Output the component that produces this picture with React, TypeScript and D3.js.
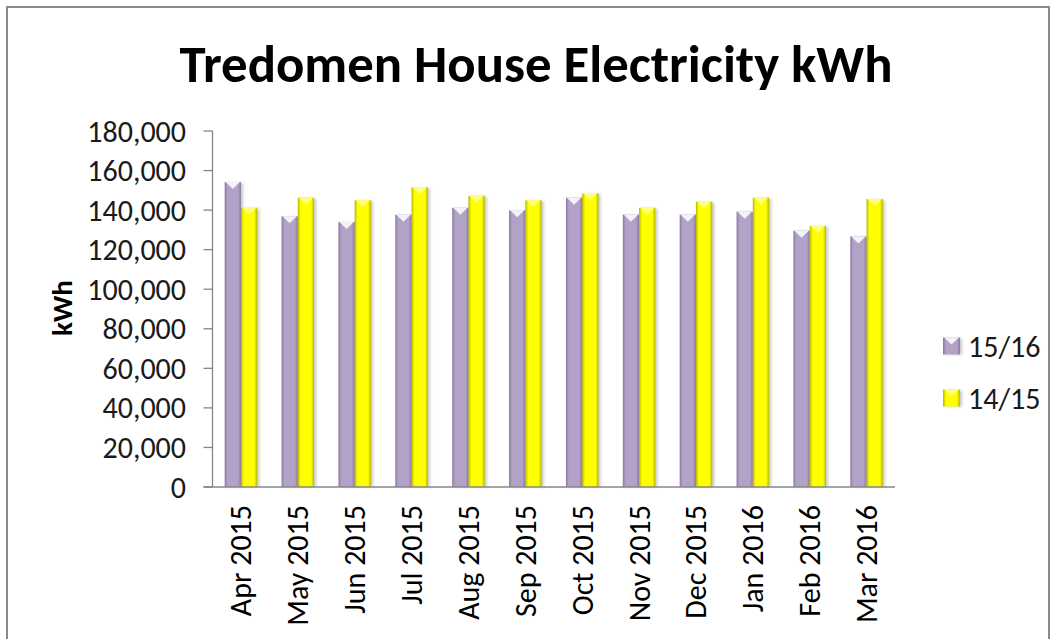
import React from "react";
import * as d3 from "d3";

const categories = ["Apr 2015","May 2015","Jun 2015","Jul 2015","Aug 2015","Sep 2015","Oct 2015","Nov 2015","Dec 2015","Jan 2016","Feb 2016","Mar 2016"];
const seriesNames = ["15/16","14/15"];
const values1516 = [154200,136900,134000,137700,141200,139900,146300,137700,137700,139200,129600,126700];
const values1415 = [141200,146300,145000,151500,147300,145000,148500,141200,144300,146300,132000,145600];
const yTicks = [0,20000,40000,60000,80000,100000,120000,140000,160000,180000];

const W = 1057, H = 639;
const plot = { left: 212.5, right: 895, top: 131, bottom: 487 };
const FONT = "Carlito, Calibri, Lato, 'Open Sans', sans-serif";

const styles: Record<string, { base: string; edge: string; hi: string; hiOp: number }> = {
  "15/16": { base: "#B3A2C7", edge: "#8B77A3", hi: "#FFFFFF", hiOp: 0.85 },
  "14/15": { base: "#FFFF00", edge: "#B8B800", hi: "#FFFFB0", hiOp: 0.7 },
};

function Bar({ x, y, w, h, name, id }: { x: number; y: number; w: number; h: number; name: string; id: string }) {
  const s = styles[name];
  const capH = Math.min(7, h / 2);
  return (
    <g>
      <rect x={x + 2} y={y + 1} width={w} height={h - 1} fill="#000" opacity={0.22} filter="url(#blur)" />
      <rect x={x} y={y} width={w} height={h} fill={`url(#grad-${id})`} />
      <polygon
        points={`${x + 1},${y} ${x + w - 1},${y} ${x + w / 2},${y + capH}`}
        fill={s.hi}
        opacity={s.hiOp}
      />
    </g>
  );
}

export default function App() {
  const x0 = d3.scaleBand<string>().domain(categories).range([plot.left, plot.right]).padding(0);
  const x1 = d3.scaleBand<string>().domain(seriesNames).range([0, x0.bandwidth()]).paddingInner(0).paddingOuter(0.75);
  const y = d3.scaleLinear().domain([0, 180000]).range([plot.bottom, plot.top]);
  const fmt = d3.format(",");
  const seriesData: Record<string, number[]> = { "15/16": values1516, "14/15": values1415 };
  const ids: Record<string, string> = { "15/16": "p", "14/15": "y" };

  return (
    <div style={{ position: "fixed", left: 0, top: 0 }}>
      <svg width={W} height={H} style={{ display: "block", background: "#fff" }}>
        <defs>
          {seriesNames.map((n) => (
            <linearGradient key={n} id={`grad-${ids[n]}`} x1="0" x2="1" y1="0" y2="0">
              <stop offset="0%" stopColor={styles[n].edge} />
              <stop offset="18%" stopColor={styles[n].base} />
              <stop offset="82%" stopColor={styles[n].base} />
              <stop offset="100%" stopColor={styles[n].edge} />
            </linearGradient>
          ))}
          <filter id="blur" x="-50%" y="-10%" width="200%" height="120%">
            <feGaussianBlur stdDeviation="1.5" />
          </filter>
        </defs>
        <rect x={7} y={7} width={1042} height={660} fill="#fff" stroke="#8a8a8a" strokeWidth={2} />

        <text x={536} y={82} textAnchor="middle" fontFamily={FONT} fontWeight="bold" fontSize={53}
          textLength={713} lengthAdjust="spacingAndGlyphs" fill="#000">
          Tredomen House Electricity kWh
        </text>

        {/* bars */}
        {categories.map((c, i) => (
          <g key={c}>
            {seriesNames.map((n) => {
              const v = seriesData[n][i];
              const bx = (x0(c) as number) + (x1(n) as number);
              return <Bar key={n} x={bx} y={y(v)} w={x1.bandwidth()} h={plot.bottom - y(v)} name={n} id={ids[n]} />;
            })}
          </g>
        ))}

        {/* y axis */}
        <line x1={plot.left} x2={plot.left} y1={plot.top} y2={plot.bottom} stroke="#868686" strokeWidth={1.3} />
        {yTicks.map((t) => (
          <g key={t}>
            <line x1={plot.left - 9} x2={plot.left} y1={y(t)} y2={y(t)} stroke="#868686" strokeWidth={1.3} />
            <text x={186} y={y(t)} dy="0.35em" textAnchor="end" fontFamily={FONT} fontSize={30} fill="#1a1a1a">
              {fmt(t)}
            </text>
          </g>
        ))}
        <line x1={plot.left - 9} x2={plot.right} y1={plot.bottom} y2={plot.bottom} stroke="#868686" strokeWidth={1.3} />

        {/* x labels */}
        {categories.map((c) => {
          const cx = (x0(c) as number) + x0.bandwidth() / 2;
          return (
            <text key={c} transform={`translate(${cx},${505}) rotate(-90)`} textAnchor="end" dy="0.35em"
              fontFamily={FONT} fontSize={30} fill="#000">
              {c}
            </text>
          );
        })}

        {/* y axis title */}
        <text transform={`translate(62,308) rotate(-90)`} textAnchor="middle" dy="0.35em" fontFamily={FONT}
          fontWeight="bold" fontSize={29} fill="#000">
          kWh
        </text>

        {/* legend */}
        {seriesNames.map((n, i) => {
          const ly = 346 + i * 52;
          return (
            <g key={n}>
              <Bar x={943} y={ly - 8.5} w={17} h={17} name={n} id={ids[n]} />
              <text x={968} y={ly} dy="0.35em" fontFamily={FONT} fontSize={30} fill="#1a1a1a">{n}</text>
            </g>
          );
        })}
      </svg>
    </div>
  );
}
